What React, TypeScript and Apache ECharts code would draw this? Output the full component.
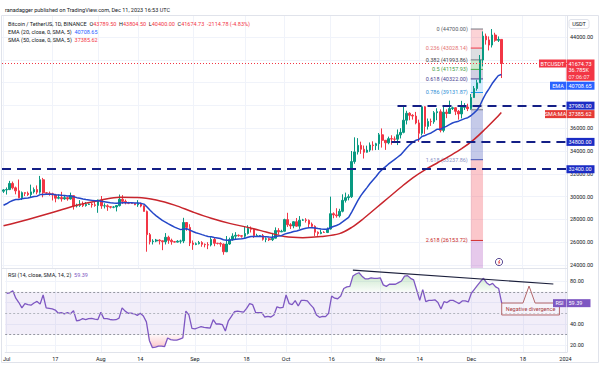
import React, { useEffect, useRef } from 'react';
import * as echarts from 'echarts';

// ---------------- data ----------------
const DAY_COUNT = 185; // 2023-07-01 .. 2024-01-01

// [open, high, low, close]
const julCandles = [
  [30472,30660,30320,30586],[30586,30800,30180,30617],[30617,31380,30570,31156],[31156,31320,30630,30767],
  [30767,30880,30200,30505],[30505,31500,29850,29895],[29895,30450,29700,30346],[30346,30380,30050,30292],
  [30292,30440,30060,30171],[30171,31050,29950,30414],[30414,30800,30270,30620],[30620,30980,30200,30391],
  [30391,31814,30250,31477],[31477,31640,29940,30334],[30334,30400,30250,30295],[30295,30440,30080,30249],
  [30249,30340,29660,30145],[30145,30245,29500,29857],[29857,30190,29760,29917],[29917,30420,29560,29800],
  [29800,30050,29720,29909],[29909,29990,29640,29792],[29792,30350,29740,30083],[30083,30100,28860,29176],
  [29176,29380,29050,29228],[29228,29690,29100,29354],[29354,29570,29080,29211],[29211,29530,29120,29314],
  [29314,29400,29260,29352],[29352,29450,29030,29278],[29278,29530,29110,29230],
];
const augCandles = [
  [29230,29740,28580,29705],[29705,30050,28930,29186],[29186,29410,28960,29193],[29193,29320,28750,29113],
  [29113,29120,28960,29072],[29072,29170,28980,29088],[29088,29250,28700,29210],[29210,30180,29130,29770],
  [29770,30130,29360,29581],[29581,29740,29320,29452],[29452,29540,29340,29424],[29424,29480,29360,29398],
  [29398,29440,29250,29282],[29282,29690,29100,29408],[29408,29460,29060,29170],[29170,29230,28700,28701],
  [28701,28770,25166,26664],[26664,26810,25800,26050],[26050,26260,25800,26100],[26100,26290,26000,26189],
  [26189,26255,25800,26124],[26124,26140,25300,26040],[26040,26800,25800,26431],[26431,26570,25860,26163],
  [26163,26310,25780,26047],[26047,26107,25970,26008],[26008,26180,25970,26089],[26089,26220,25880,26106],
  [26106,28140,25920,27727],[27727,27760,27000,27297],[27297,27580,25660,25931],
];
const sepCandles = [
  [25931,26150,25330,25800],[25800,25980,25740,25869],[25869,26110,25800,25969],[25969,26090,25600,25812],
  [25812,25890,25550,25780],[25780,26000,25390,25753],[25753,26440,25630,26240],[26240,26420,25650,25905],
  [25905,25940,25800,25895],[25895,26000,25600,25832],[25832,25890,24900,25162],[25162,26540,25130,25840],
  [25840,26400,25770,26223],[26223,26780,26130,26530],[26530,26880,26230,26608],[26608,26680,26480,26568],
  [26568,26620,26400,26527],[26527,27400,26380,26762],[26762,27490,26670,27211],[27211,27380,26850,27133],
  [27133,27160,26380,26567],[26567,26740,26480,26580],[26580,26630,26510,26580],[26580,26720,26140,26256],
  [26256,26430,26000,26298],[26298,26390,26100,26218],[26218,26820,26100,26352],[26352,27300,26340,27021],
  [27021,27230,26670,26907],[26907,27090,26890,26962],
];
const octCandles = [
  [26962,28060,26950,27983],[27983,28580,27340,27531],[27531,27670,27160,27429],[27429,27830,27220,27794],
  [27794,28120,27360,27410],[27410,28290,27170,27931],[27931,28050,27860,27956],[27956,28110,27720,27917],
  [27917,27990,27260,27590],[27590,27730,27300,27391],[27391,27480,26550,26873],[26873,26950,26560,26756],
  [26756,27100,26700,26862],[26862,26970,26810,26852],[26852,27290,26800,27154],[27154,30000,27110,28500],
  [28500,28620,28100,28395],[28395,28980,28150,28320],[28320,28930,28170,28713],[28713,30200,28620,29669],
  [29669,30350,29480,29910],[29910,30200,29670,29992],[29992,34000,29880,33069],[33069,35200,32880,33922],
  [33922,35130,33690,34496],[34496,34820,33750,34151],[34151,34480,33340,33892],[33892,34470,33860,34082],
  [34082,34750,33930,34525],[34525,34850,34050,34474],[34474,34720,34080,34639],
];
const novCandles = [
  [34639,35580,34100,35421],[35421,35980,34300,34941],[34941,34950,34100,34720],[34720,35260,34590,35082],
  [35082,35380,34550,35049],[35049,35280,34750,35037],[35037,35890,34520,35417],[35417,36000,35100,35634],
  [35634,37980,35550,36702],[36702,37530,36330,37310],[37310,37400,36700,37130],[37130,37230,36750,37065],
  [37065,37430,36340,36462],[36462,36750,34800,35552],[35552,37980,35360,37880],[37880,37930,35500,36160],
  [36160,36850,35880,36595],[36595,36840,36200,36568],[36568,37500,36390,37360],[37360,37750,36700,37447],
  [37447,37650,35630,35810],[35810,37880,35640,37410],[37410,37650,36880,37290],[37290,38420,37250,37720],
  [37720,37890,37600,37796],[37796,37830,37150,37480],[37480,37590,36750,37254],[37254,38400,36860,37832],
  [37832,38200,37600,37858],[37858,38150,37500,37712],
];
const decCandles = [
  [37712,38999,37615.86,38688],[38688,39700,38650,39477],[39477,40250,39290,39978],[39978,42420,39978,41980],
  [41980,44490,41420,44080],[44080,44300,43330,43746],[43746,44050,42820,43293],[43293,44700,43080,44170],
  [44170,44370,43580,43713],[43713,44050,43560,43789.5],[43789.5,43804.5,40400,41674.73],
];

const emaJul = [29241,29372,29542,29659,29740,29755,29811,29857,29887,29937,30002,30039,30176,30191,30201,30206,30200,30167,30143,30110,30091,30063,30065,29980,29908,29855,29794,29748,29710,29669,29627];
const emaAug = [29634,29591,29553,29511,29469,29433,29412,29446,29459,29458,29455,29450,29434,29432,29407,29340,29085,28796,28539,28315,28106,27909,27768,27615,27466,27327,27209,27104,27163,27176,27057];
const emaSep = [26937,26835,26753,26663,26579,26500,26475,26421,26371,26320,26210,26175,26180,26213,26251,26281,26304,26348,26430,26497,26504,26511,26518,26493,26474,26450,26441,26496,26535,26576];
const emaOct = [26710,26788,26849,26939,26984,27074,27158,27230,27264,27276,27238,27192,27161,27132,27134,27264,27372,27462,27581,27780,27983,28174,28640,29143,29653,30081,30444,30790,31146,31463,31765];
const emaNov = [32113,32383,32606,32842,33052,33241,33449,33657,33947,34268,34540,34781,34941,35000,35274,35358,35477,35581,35750,35912,35902,36046,36164,36312,36453,36551,36618,36734,36841,36924];
const emaDec = [37092,37319,37572,37992,38572,39065,39467,39915,40277,40611,40708.65];

const smaPoints: [string, number][] = [
  ['2023-07-01',27450],['2023-07-09',28000],['2023-07-17',28600],['2023-07-25',29250],['2023-08-02',29700],
  ['2023-08-08',29950],['2023-08-14',29930],['2023-08-20',29700],['2023-08-26',29250],['2023-09-01',28650],
  ['2023-09-07',28100],['2023-09-13',27650],['2023-09-19',27300],['2023-09-25',26900],['2023-10-01',26500],
  ['2023-10-07',26400],['2023-10-13',26500],['2023-10-19',26750],['2023-10-23',27300],['2023-10-27',28100],
  ['2023-10-31',29000],['2023-11-04',29900],['2023-11-08',30800],['2023-11-12',31650],['2023-11-16',32350],
  ['2023-11-20',32950],['2023-11-24',33550],['2023-11-28',34200],['2023-12-02',35000],['2023-12-06',36000],
  ['2023-12-09',36800],['2023-12-11',37385.62],
];

const rsiJul = [68.5,69,71,64,60,55,59,58,57.5,59.5,61,58.5,67,55,54.5,54,53,50,50.5,49.5,50.5,49.5,52.4,43,43.5,45,44,45,45.2,44.5,44];
const rsiAug = [51,45,45,44.2,43.8,44,45.5,55,52,50,50,49.5,48,50,47.5,42,24.5,18,18.5,19.5,19.5,19,27,25.5,25,25,26,27,52,48.4,36];
const rsiSep = [35.5,36.5,37.5,36.8,36.5,36.2,44,40,40,39.5,33.5,43,47,51.4,52,51.5,51,54.5,59,58,50.5,50.6,50.6,46.5,47,46.5,48.4,56,55,55.5];
const rsiOct = [67,59,58,61.7,56.7,62,62,61.5,58,55,48.4,46.2,47,46.8,50,66,64,63.5,66,73,74.5,75,84.6,86.5,87.7,84.5,82,82,83,82.5,82.5];
const rsiNov = [83,76.4,75,77,77,77,78.5,80,84.6,85,82.5,81,71.6,62,72,60.8,62,62,62.5,60,54,60.8,60,62,62,60.5,59,61.5,61.5,60.5];
const rsiDec = [68.6,72.3,76,79.5,82.5,78.4,76.3,77.8,74.5,73,59.39];

const dateTickLabels: [string, string][] = [
  ['2023-07-01','Jul'],['2023-07-17','17'],['2023-08-01','Aug'],['2023-08-14','14'],['2023-09-01','Sep'],
  ['2023-09-18','18'],['2023-10-01','Oct'],['2023-10-16','16'],['2023-11-01','Nov'],['2023-11-14','14'],
  ['2023-12-01','Dec'],['2023-12-18','18'],['2024-01-01','2024'],
];
// grid lines at every price step; labels only where the price-scale tags leave room
const priceTicks = [24000,26000,28000,30000,32000,34000,36000,38000,40000,42000,44000];
const priceLabels = [24000,26000,28000,30000,32000,34000,36000,44000];
const rsiTicks = [20,40,60,80];
const rsiLabels = [20,40,80];

const fibLevels = [0,0.236,0.382,0.5,0.618,0.786,1,1.618,2.618,3.618];
const fibPrices = [44700,43028.14,41993.86,41157.93,40322.00,39131.87,37615.86,33237.86,26153.72,19069.58];
const fibFrom = '2023-12-01';
const fibTo = '2023-12-05';

const levelLines = [37980, 34800, 32400];
const levelStarts = ['2023-11-07', '2023-11-05', null];
const rsiTrend: [string, number][] = [['2023-10-23', 90.2], ['2023-12-28', 77.2]];
const callout = { from: '2023-12-11', to: '2023-12-30', top: 59.5, bottom: 48.4, tipDate: '2023-12-20', tipRsi: 75.3, baseA: '2023-12-18', baseB: '2023-12-22' };

const lastChange = '-2114.78 (-4.83%)';
const lastVolume = '36.785K';
const countdown = '07:06:07';

// ---------------- styling ----------------
const FONT = 'Roboto, "Noto Sans", sans-serif';
const TXT = '#131722';
const GRIDC = '#f0f3fa';
const BORDER = '#e0e3eb';
const UP = '#089981';
const DOWN = '#f23645';
const NAVY = '#141f86';
const NAVY_TAG = '#1b2cc4';
const EMA_C = '#2447c8';
const SMA_C = '#c8252c';
const RSI_C = '#7e57c2';
const FS = 5.5;
const PRICE_MIN = 23737;
const PRICE_MAX = 45842;
const RSI_MIN = 13.95;
const RSI_MAX = 92.1;

const fibLineColors = ['#787b86','#f23645','#787b86','#4caf50','#4a3f8f','#2196f3','#787b86','#3f51b5','#d32f2f','#9c27b0'];
const fibFillColors = ['', 'rgba(242,54,69,0.22)','rgba(120,123,134,0.25)','rgba(76,175,80,0.28)','rgba(74,63,143,0.25)','rgba(33,150,243,0.2)','rgba(120,123,134,0.18)','rgba(63,81,181,0.3)','rgba(242,54,69,0.28)','rgba(156,39,176,0.25)'];
const fibTextColors = ['#555a66','#e57373','#3c3f48','#43a047','#4a3f8f','#2f8fd6','#787b86','#8c93c6','#c62828','#9c27b0'];
const fibShowLabel = [true,true,true,true,true,true,false,true,true,false];

function buildDates(): string[] {
  const out: string[] = [];
  const d = new Date(Date.UTC(2023, 6, 1));
  for (let i = 0; i < DAY_COUNT; i++) {
    out.push(d.toISOString().slice(0, 10));
    d.setUTCDate(d.getUTCDate() + 1);
  }
  return out;
}

const dates = buildDates();
const candles = [...julCandles, ...augCandles, ...sepCandles, ...octCandles, ...novCandles, ...decCandles];
const ema = [...emaJul, ...emaAug, ...emaSep, ...emaOct, ...emaNov, ...emaDec];
const rsi = [...rsiJul, ...rsiAug, ...rsiSep, ...rsiOct, ...rsiNov, ...rsiDec];
const labelMap: Record<string, string> = Object.fromEntries(dateTickLabels);
const idx = (d: string) => dates.indexOf(d);

function buildOption(): any {
  const gridLinesMain = [
    ...dateTickLabels.map(([d]) => ({ xAxis: d })),
    ...priceTicks.map((p) => ({ yAxis: p })),
  ];
  const gridLinesRsi = [
    ...dateTickLabels.map(([d]) => ({ xAxis: d })),
    ...rsiTicks.map((p) => ({ yAxis: p })),
  ];
  const navyStyle = { color: NAVY, type: [9, 6], width: 2 };
  const levelMarks: any[] = levelLines.map((v, i) => {
    const s = levelStarts[i];
    if (!s) return { yAxis: v, lineStyle: navyStyle };
    return [{ coord: [s, v], lineStyle: navyStyle }, { coord: [dates[dates.length - 1], v] }];
  });

  return {
    animation: false,
    backgroundColor: '#ffffff',
    textStyle: { fontFamily: FONT },
    grid: [
      { left: 2, right: 33, top: 16, height: 252 },
      { left: 2, right: 33, top: 268, height: 84 },
    ],
    xAxis: [
      {
        type: 'category', gridIndex: 0, data: dates, boundaryGap: true,
        axisLine: { show: true, onZero: false, lineStyle: { color: BORDER } },
        axisTick: { show: false }, axisLabel: { show: false }, splitLine: { show: false },
      },
      {
        type: 'category', gridIndex: 1, data: dates, boundaryGap: true,
        axisLine: { show: true, onZero: false, lineStyle: { color: BORDER } },
        axisTick: { show: false }, splitLine: { show: false },
        axisLabel: {
          interval: (_i: number, v: string) => v in labelMap,
          formatter: (v: string) => labelMap[v] || '',
          fontSize: FS, color: TXT, margin: 4,
        },
      },
    ],
    yAxis: [
      {
        type: 'value', gridIndex: 0, position: 'right', min: PRICE_MIN, max: PRICE_MAX,
        axisLine: { show: true, lineStyle: { color: BORDER } },
        axisTick: { show: false, customValues: priceLabels },
        axisLabel: { customValues: priceLabels, formatter: (v: number) => v.toFixed(2), fontSize: FS, color: TXT, margin: 3 },
        splitLine: { show: false },
      },
      {
        type: 'value', gridIndex: 1, position: 'right', min: RSI_MIN, max: RSI_MAX,
        axisLine: { show: true, lineStyle: { color: BORDER } },
        axisTick: { show: false, customValues: rsiLabels },
        axisLabel: { customValues: rsiLabels, formatter: (v: number) => v.toFixed(2), fontSize: FS, color: TXT, margin: 3 },
        splitLine: { show: false },
      },
    ],
    series: [
      {
        type: 'line', xAxisIndex: 0, yAxisIndex: 0, data: [], silent: true, z: 0,
        markLine: { silent: true, z: 0, symbol: ['none', 'none'], label: { show: false }, lineStyle: { color: GRIDC, width: 1, type: 'solid' }, data: gridLinesMain },
      },
      {
        type: 'line', xAxisIndex: 1, yAxisIndex: 1, data: [], silent: true, z: 0,
        markLine: { silent: true, z: 0, symbol: ['none', 'none'], label: { show: false }, lineStyle: { color: GRIDC, width: 1, type: 'solid' }, data: gridLinesRsi },
      },
      {
        type: 'custom', xAxisIndex: 0, yAxisIndex: 0, z: 1, silent: true,
        data: [[idx(fibFrom), fibPrices[0]]],
        encode: { x: 0, y: 1 },
        renderItem: (_p: any, api: any) => {
          const x0 = api.coord([idx(fibFrom), fibPrices[0]])[0];
          const x1 = api.coord([idx(fibTo), fibPrices[0]])[0];
          const yBottom = api.coord([idx(fibFrom), PRICE_MIN])[1];
          const yOf = (p: number) => Math.min(api.coord([idx(fibFrom), p])[1], yBottom);
          const children: any[] = [];
          for (let i = 0; i < fibPrices.length; i++) {
            const y = yOf(fibPrices[i]);
            if (i < fibPrices.length - 1) {
              const yn = yOf(fibPrices[i + 1]);
              children.push({ type: 'rect', shape: { x: x0, y, width: x1 - x0, height: yn - y }, style: { fill: fibFillColors[i + 1] } });
            }
          }
          for (let i = 0; i < fibPrices.length; i++) {
            const y = yOf(fibPrices[i]);
            if (y >= yBottom) continue;
            children.push({ type: 'line', shape: { x1: x0, y1: y, x2: x1, y2: y }, style: { stroke: fibLineColors[i], lineWidth: 1 } });
            if (fibShowLabel[i]) {
              children.push({
                type: 'text', x: x0 - 3, y,
                style: { text: `${fibLevels[i]} (${fibPrices[i].toFixed(2)})`, fill: fibTextColors[i], fontSize: FS, fontFamily: FONT, align: 'right', verticalAlign: 'middle' },
              });
            }
          }
          return { type: 'group', children };
        },
      },
      {
        type: 'candlestick', xAxisIndex: 0, yAxisIndex: 0, z: 2,
        data: candles.map(([o, h, l, c]) => [o, c, l, h]),
        barWidth: '68%',
        itemStyle: { color: UP, color0: DOWN, borderColor: UP, borderColor0: DOWN, borderWidth: 1 },
        markLine: {
          silent: true, z: 5, symbol: ['none', 'none'], label: { show: false },
          data: [
            { yAxis: candles[candles.length - 1][3], lineStyle: { color: DOWN, type: [1, 2], width: 1 } },
            ...levelMarks,
          ],
        },
      },
      {
        type: 'line', name: 'SMA', xAxisIndex: 0, yAxisIndex: 0, z: 3, data: smaPoints, smooth: 0.35,
        symbol: 'none', lineStyle: { color: SMA_C, width: 1.5 }, silent: true,
      },
      {
        type: 'line', name: 'EMA', xAxisIndex: 0, yAxisIndex: 0, z: 3, data: ema,
        symbol: 'none', lineStyle: { color: EMA_C, width: 1.5 }, silent: true,
      },
      // RSI fills
      {
        type: 'line', xAxisIndex: 1, yAxisIndex: 1, stack: 'ob', data: rsi.map(() => 70),
        symbol: 'none', lineStyle: { opacity: 0 }, silent: true, z: 1,
      },
      {
        type: 'line', xAxisIndex: 1, yAxisIndex: 1, stack: 'ob', data: rsi.map((v) => Math.max(v - 70, 0)),
        symbol: 'none', lineStyle: { opacity: 0 }, silent: true, z: 1,
        areaStyle: { color: new echarts.graphic.LinearGradient(0, 0, 0, 1, [
          { offset: 0, color: 'rgba(76,175,80,0.45)' }, { offset: 1, color: 'rgba(76,175,80,0.05)' },
        ]) },
      },
      {
        type: 'line', xAxisIndex: 1, yAxisIndex: 1, stack: 'os', data: rsi.map((v) => Math.min(v, 30)),
        symbol: 'none', lineStyle: { opacity: 0 }, silent: true, z: 1,
      },
      {
        type: 'line', xAxisIndex: 1, yAxisIndex: 1, stack: 'os', data: rsi.map((v) => 30 - Math.min(v, 30)),
        symbol: 'none', lineStyle: { opacity: 0 }, silent: true, z: 1,
        areaStyle: { color: new echarts.graphic.LinearGradient(0, 0, 0, 1, [
          { offset: 0, color: 'rgba(242,54,69,0.05)' }, { offset: 1, color: 'rgba(242,54,69,0.4)' },
        ]) },
      },
      {
        type: 'line', name: 'RSI', xAxisIndex: 1, yAxisIndex: 1, z: 3, data: rsi,
        symbol: 'none', lineStyle: { color: RSI_C, width: 1.3 }, silent: true,
        markArea: { silent: true, itemStyle: { color: 'rgba(126,87,194,0.1)' }, data: [[{ yAxis: 30 }, { yAxis: 70 }]] },
        markLine: {
          silent: true, symbol: ['none', 'none'], label: { show: false },
          data: [
            { yAxis: 70, lineStyle: { color: '#9598a1', type: [2, 2], width: 1 } },
            { yAxis: 50, lineStyle: { color: '#b2b5be', type: [2, 2], width: 1 } },
            { yAxis: 30, lineStyle: { color: '#9598a1', type: [2, 2], width: 1 } },
            [{ coord: rsiTrend[0], lineStyle: { color: '#1b1f3b', type: 'solid', width: 1.2 } }, { coord: rsiTrend[1] }],
          ],
        },
      },
      {
        type: 'custom', xAxisIndex: 1, yAxisIndex: 1, z: 6, silent: true,
        data: [[idx(callout.tipDate), callout.tipRsi]],
        encode: { x: 0, y: 1 },
        renderItem: (_p: any, api: any) => {
          const [bl, bt] = api.coord([idx(callout.from), callout.top]);
          const [br, bb] = api.coord([idx(callout.to), callout.bottom]);
          const [tx, ty] = api.coord([idx(callout.tipDate), callout.tipRsi]);
          const pa = api.coord([idx(callout.baseA), callout.top])[0];
          const pb = api.coord([idx(callout.baseB), callout.top])[0];
          return {
            type: 'group',
            children: [
              { type: 'polygon', shape: { points: [[bl, bt], [pa, bt], [tx, ty], [pb, bt], [br, bt], [br, bb], [bl, bb]] },
                style: { fill: 'rgba(255,255,255,0.35)', stroke: '#b3676b', lineWidth: 1 } },
              { type: 'text', x: (bl + br) / 2, y: (bt + bb) / 2,
                style: { text: 'Negative divergence', fill: '#a83a3f', fontSize: FS, fontFamily: FONT, align: 'center', verticalAlign: 'middle' } },
            ],
          };
        },
      },
    ],
  };
}

function buildGraphics(chart: any): any[] {
  const py = (v: number) => chart.convertToPixel({ yAxisIndex: 0 }, v) as number;
  const ry = (v: number) => chart.convertToPixel({ yAxisIndex: 1 }, v) as number;
  const AX = 566.5;
  const VW = 28;
  const H = 8;
  const els: any[] = [];
  const txt = (x: number, y: number, text: string, fill: string, align = 'left', extra: any = {}) => ({
    type: 'text', x, y, z: 60,
    style: { text, fill, fontSize: FS, fontFamily: FONT, align, verticalAlign: 'middle', ...extra },
  });
  const tag = (name: string | null, nameW: number, y: number, bg: string, lines: string[], vw = VW) => {
    if (name) {
      els.push({ type: 'rect', z: 55, shape: { x: AX - nameW - 0.5, y: y - H / 2, width: nameW, height: H }, style: { fill: bg } });
      els.push(txt(AX - 0.5 - nameW / 2, y, name, '#ffffff', 'center'));
    }
    const lh = 6.6;
    const h = lines.length === 1 ? H : H + (lines.length - 1) * lh;
    els.push({ type: 'rect', z: 55, shape: { x: AX, y: y - H / 2, width: vw, height: h }, style: { fill: bg } });
    lines.forEach((l, i) => els.push(txt(AX + 2, y + i * lh, l, '#ffffff', 'left', i === 2 ? { opacity: 0.85 } : {})));
    return y - H / 2 + h;
  };

  const last = candles[candles.length - 1];
  const lastClose = last[3];
  const btcY = py(lastClose);
  const btcBottom = tag('BTCUSDT', 27, btcY, DOWN, [lastClose.toFixed(2), lastVolume, countdown]);
  const emaLast = ema[ema.length - 1];
  tag('EMA', 16, Math.max(py(emaLast), btcBottom + H / 2 + 1), '#2962ff', [emaLast.toFixed(2)]);
  const y37980 = py(levelLines[0]);
  tag(null, 0, y37980, NAVY_TAG, [levelLines[0].toFixed(2)]);
  const smaLast = smaPoints[smaPoints.length - 1][1];
  tag('SMA:MA', 21, Math.max(py(smaLast), y37980 + H + 0.5), '#e53935', [smaLast.toFixed(2)]);
  tag(null, 0, py(levelLines[1]), NAVY_TAG, [levelLines[1].toFixed(2)]);
  tag(null, 0, py(levelLines[2]), NAVY_TAG, [levelLines[2].toFixed(2)]);
  const rsiLast = rsi[rsi.length - 1];
  tag('RSI', 13, ry(rsiLast), RSI_C, [rsiLast.toFixed(2)], 24);

  // USDT currency box
  els.push({ type: 'rect', z: 55, shape: { x: 569, y: 19.5, width: 20, height: 9, r: 2 }, style: { fill: '#ffffff', stroke: BORDER, lineWidth: 1 } });
  els.push(txt(579, 24, 'USDT', TXT, 'center'));

  // frame
  els.push({ type: 'rect', z: 54, silent: true, shape: { x: 1.5, y: 15.5, width: 597, height: 347 }, style: { fill: 'none', stroke: BORDER, lineWidth: 1 } });

  // texts
  els.push(txt(5, 9.5, 'ranadagger published on TradingView.com, Dec 11, 2023 16:53 UTC', TXT));
  const [o, h, l, c] = last;
  els.push({
    type: 'text', x: 8, y: 24, z: 60,
    style: {
      text: `{t|Bitcoin / TetherUS, 1D, BINANCE}  {t|O}{r|${o.toFixed(2)}}  {t|H}{r|${h.toFixed(2)}}  {t|L}{r|${l.toFixed(2)}}  {t|C}{r|${c.toFixed(2)}}  {r|${lastChange}}`,
      fontSize: FS, fontFamily: FONT, verticalAlign: 'middle',
      rich: { t: { fill: TXT, fontSize: FS, fontFamily: FONT }, r: { fill: DOWN, fontSize: FS, fontFamily: FONT } },
    },
  });
  els.push({
    type: 'text', x: 8, y: 32, z: 60,
    style: {
      text: `{t|EMA (20, close, 0, SMA, 5)}  {b|${emaLast.toFixed(2)}}`, fontSize: FS, fontFamily: FONT, verticalAlign: 'middle',
      rich: { t: { fill: TXT, fontSize: FS, fontFamily: FONT }, b: { fill: '#2962ff', fontSize: FS, fontFamily: FONT } },
    },
  });
  els.push({
    type: 'text', x: 8, y: 39.5, z: 60,
    style: {
      text: `{t|SMA (50, close, 0, SMA, 5)}  {r|${smaLast.toFixed(2)}}`, fontSize: FS, fontFamily: FONT, verticalAlign: 'middle',
      rich: { t: { fill: TXT, fontSize: FS, fontFamily: FONT }, r: { fill: DOWN, fontSize: FS, fontFamily: FONT } },
    },
  });
  els.push({
    type: 'text', x: 8, y: 275, z: 60,
    style: {
      text: `{t|RSI (14, close, SMA, 14, 2)}  {p|${rsiLast.toFixed(2)}}`, fontSize: FS, fontFamily: FONT, verticalAlign: 'middle',
      rich: { t: { fill: TXT, fontSize: FS, fontFamily: FONT }, p: { fill: RSI_C, fontSize: FS, fontFamily: FONT } },
    },
  });

  // event icon
  els.push({ type: 'circle', z: 60, shape: { cx: 499, cy: 262, r: 3.6 }, style: { fill: '#ffffff', stroke: '#4a3a8a', lineWidth: 0.9 } });
  els.push({ type: 'polyline', z: 61, shape: { points: [[500, 259.8], [498.3, 262.3], [500, 262], [498.5, 264.3]] }, style: { stroke: '#e53935', lineWidth: 0.8, fill: 'none' } });

  return els;
}

export default function App() {
  const ref = useRef<HTMLDivElement>(null);
  useEffect(() => {
    document.body.style.margin = '0';
    const el = ref.current;
    if (!el) return;
    const chart = echarts.init(el, null, { renderer: 'svg' });
    chart.setOption(buildOption());
    chart.setOption({ graphic: { elements: buildGraphics(chart) } });
    return () => chart.dispose();
  }, []);
  return <div ref={ref} style={{ width: 600, height: 366 }} />;
}
